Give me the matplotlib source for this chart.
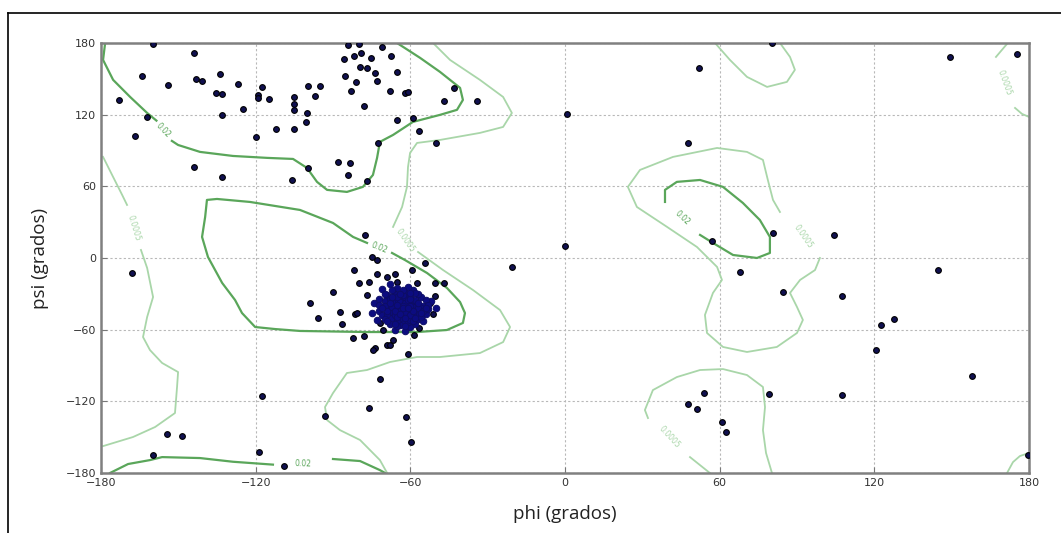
import numpy as np
import matplotlib
matplotlib.use("Agg")
import matplotlib.pyplot as plt
from matplotlib.lines import Line2D

# residue angles (phi, psi)
scatter_pts = [
    # beta region
    (-160, 179), (-144, 172), (-164, 152), (-154, 145), (-143, 150), (-141, 148),
    (-134, 154), (-135.5, 138), (-133, 137), (-127, 146), (-117.6, 143.5),
    (-119, 136.5), (-119, 133.7), (-115, 133), (-125, 125), (-133, 120),
    (-173, 132), (-162, 118), (-167, 102), (-120, 101.6), (-112, 108),
    (-105, 135), (-105, 128.5), (-105, 124), (-100, 121), (-100.6, 114),
    (-105, 108), (-97, 135.7), (-99.8, 144), (-95, 144), (-144, 76.5),
    (-133, 68), (-106, 65), (-88, 80.7), (-83.4, 79.3), (-84, 69.5),
    (-77, 64.7), (-99.6, 75.6), (-84, 178.4), (-80, 179), (-71, 177),
    (-85.6, 166.4), (-82, 169), (-79, 171.4), (-75.4, 167.8), (-67.5, 169),
    (-79.5, 159.7), (-77, 159), (-73.7, 155), (-73, 148), (-65, 155.5),
    (-85.3, 152.4), (-81, 147), (-83, 140), (-68, 140), (-62, 138), (-61, 139),
    (-78, 127), (-65, 115.6), (-59, 117), (-56.5, 106), (-72.7, 96.6),
    (-43, 142.6), (-47, 131.5), (-34, 131), (-50, 96.6),
    # scattered
    (0.6, 120.6), (47.8, 96.6), (52, 159.4), (80.4, 179.8), (149.3, 168.6),
    (175.2, 170.9), (-77.6, 19.3), (0, 10.3), (-75, 1), (-73, -1.7),
    (-54.3, -4), (-20.4, -7.3), (-82, -10), (-59.3, -10),
    (56.9, 14.5), (80.8, 20.7), (104.3, 19.3), (67.9, -11.7), (84.4, -28.2),
    (107.6, -31.8), (144.6, -10), (122.6, -56), (127.7, -51.3), (120.5, -77),
    (157.8, -98.8), (53.9, -113.3), (47.8, -122.3), (51.3, -126.5),
    (60.9, -137), (62.5, -146), (79.1, -114.2), (107.3, -114.7), (179.7, -165),
    # around the alpha cluster
    (-50.4, -20.7), (-46.9, -20.7), (-50.4, -31.8), (-51.1, -47.2),
    (-56.6, -59), (-58.6, -64.5), (-61, -80), (-71.8, -101), (-76, -126),
    (-61.7, -133.4), (-59.7, -153.8), (-82.4, -66.7), (-78, -65.3),
    (-73.7, -75.6), (-74.4, -77), (-69.2, -73), (-67.9, -73), (-66.6, -68.7),
    (-87.3, -45), (-86.6, -55), (-81.5, -47), (-80.8, -46.3), (-89.9, -28.7),
    (-98.9, -37.4), (-95.7, -50.5), (-71.8, -54.7), (-70.5, -60.3),
    (-80, -21), (-76, -20), (-73, -13), (-69, -16), (-66, -13), (-65, -20),
    (-57.5, -21), (-76.9, -31), (-52.4, -38),
    # left / bottom
    (-168, -12.3), (-117.6, -115.6), (-93, -132.3), (-154.3, -147.7),
    (-148.7, -149), (-160, -165), (-118.6, -162.2), (-109, -174),
]

# dense alpha-helix blob
alpha_blob = [
    (-64, -40), (-62, -42), (-66, -38), (-60, -44), (-68, -41), (-63, -35),
    (-61, -48), (-65, -46), (-58, -38), (-70, -36), (-57, -45), (-67, -50),
    (-63, -52), (-59, -50), (-72, -44), (-55, -40), (-66, -30), (-62, -29),
    (-69, -31), (-56, -33), (-54, -47), (-71, -48), (-60, -36), (-64, -56),
    (-58, -55), (-68, -55), (-61, -39), (-65, -43), (-63, -47), (-67, -45),
    (-59, -41), (-62, -33), (-66, -34), (-57, -51), (-70, -40), (-53, -43),
    (-74, -38), (-60, -58), (-65, -25), (-59, -27), (-71, -26), (-52, -36),
    (-55, -53), (-73, -52), (-62, -61), (-66, -60), (-57, -30), (-75, -46),
    (-50, -42), (-68, -22), (-61, -24), (-64, -50), (-69, -47), (-56, -42),
    (-61, -54), (-72, -34), (-54, -35), (-67, -37), (-63, -44), (-58, -47),
    (-64, -37), (-61, -45), (-66, -42), (-62, -38), (-60, -40), (-64, -44),
    (-62, -46), (-66, -48), (-59, -46), (-57, -42), (-63, -31), (-60, -32),
    (-65, -33), (-68, -34), (-69, -44), (-58, -35), (-55, -44), (-56, -49),
    (-60, -52), (-65, -53), (-70, -51), (-67, -27), (-63, -27), (-59, -53),
    (-62, -57), (-65, -57), (-53, -39), (-72, -39), (-70, -30), (-58, -29),
    (-61, -35), (-67, -41), (-63, -40), (-65, -49), (-57, -38), (-60, -48),
    (-68, -38), (-66, -44), (-64, -47), (-62, -50), (-60, -34), (-63, -42),
    (-59, -44), (-67, -33), (-65, -39), (-61, -42), (-58, -50), (-56, -46),
    (-69, -53), (-71, -42), (-64, -30), (-60, -29), (-66, -55), (-54, -42),
]

# contour level 0.02 (traced)
c02_beta = [(-178.4, 180), (-179.2, 165.8), (-175.3, 149.1), (-168.7, 134.8),
            (-162.1, 121.4), (-158.5, 115)]
c02_beta_b = [(-152.5, 98), (-150.1, 94.6), (-141.6, 88.8), (-128.8, 85.4),
              (-115.6, 83.8), (-105.5, 82.9), (-100.1, 75.4), (-96.2, 63.7),
              (-92.3, 57), (-84.6, 55.3), (-78.4, 59.5), (-74.5, 69.5),
              (-72.9, 83.8), (-71.8, 97.2), (-66.7, 103), (-59, 113.9),
              (-48.5, 119.8), (-41.9, 124), (-39.6, 132.3), (-40.7, 142.4),
              (-48.5, 155.8), (-56.2, 167.5), (-62.8, 176.7), (-65.2, 180)]
c02_alpha = [(-76.8, 12.6), (-82.2, 17.6), (-90, 29.3), (-102.8, 40.2),
             (-122.2, 46.9), (-135, 49.4), (-138.9, 48.6), (-139.6, 34.3),
             (-140.8, 17.6), (-138.5, 0.8), (-133, -20.9), (-128, -35.2),
             (-125.3, -46.1), (-120.2, -57.8), (-112.5, -59.5), (-102.8, -61.1),
             (-76.8, -62), (-57.4, -62), (-45.8, -60.3), (-39.6, -54.4),
             (-38.8, -46.1), (-40.7, -36.9), (-45.8, -25.1), (-53.5, -12.6),
             (-62.1, -1.7), (-67.1, 4.2)]
c02_left = [(52.4, 19.3), (57.4, 12.6), (65.2, 2.5), (74.5, 0), (79.5, 4.2),
            (79.5, 17.6), (75.6, 31.8), (69, 46.1), (61.3, 59.5), (52.4, 65.3),
            (43.4, 63.7), (38.8, 57), (38.8, 46.9)]
c02_bottom = [(-176.5, -180), (-169.5, -172.5), (-161, -169.2), (-156.3, -166.7),
              (-141.6, -167.5), (-128.8, -170.6), (-113.3, -173)]
c02_bottom_b = [(-90, -168.3), (-79.5, -170), (-71.8, -177.6), (-69.8, -180)]

# contour level 0.0005 (traced)
c5_beta = [(-51.2, 180), (-44.6, 165.8), (-33, 149.1), (-24, 134.8),
           (-20.6, 121.4), (-24, 109.7), (-33, 104.7), (-48.5, 98.8),
           (-57.4, 96.3), (-60.1, 87.9), (-60.9, 76.2), (-61.3, 59.5),
           (-63.2, 42.7), (-66.7, 26)]
c5_alpha = [(-57, 5), (-47.3, -10.1), (-35.7, -26.8), (-25.2, -43.6),
            (-21.3, -57.8), (-24, -70.4), (-33, -79.6), (-48.5, -82.9),
            (-57.4, -82.9), (-67.9, -87.1), (-76.8, -93.8), (-84.6, -96.3),
            (-90, -113.1), (-93.1, -124.8), (-92.3, -135.7), (-87.3, -144.1),
            (-79.5, -152.4), (-71.8, -169.2), (-69, -180)]
c5_edge = [(-179.2, 84.6), (-175.3, 67.8), (-171.8, 52.8), (-169.9, 44.4)]
c5_edge_b = [(-164.5, 6.7), (-162.1, -8.4), (-159.8, -32.7), (-162.1, -49.4),
             (-163.7, -66.2), (-161, -77.1), (-156.3, -87.9), (-150.1, -95.5),
             (-150.5, -108), (-151.3, -129.8), (-159, -141.5), (-167.6, -149.9),
             (-179.2, -157.5)]
c5_top = [(58.2, 180), (64, 165.8), (70.6, 151.6), (78.4, 143.2), (86.1, 147.4),
          (89.2, 157.5), (87.3, 168.3), (83.4, 180)]
c5_lh = [(83.4, 38.5), (80.7, 48.6), (78.7, 65.3), (76.8, 82.1), (70.6, 88.8),
         (59, 92.1), (41.9, 84.6), (29.1, 73.7), (24.4, 59.5), (27.9, 42.7),
         (39.6, 26), (51.2, 9.2), (59, -7.5), (60.9, -18.4), (57.4, -29.3),
         (54.3, -47.7), (55.1, -62.8), (61.3, -74.5), (70.6, -78.7),
         (82.2, -74.5), (90, -62.8), (92.3, -51.9), (90, -41), (87.3, -29.3),
         (91.2, -18.4), (97, -10.1), (98.9, 0)]
c5_low = [(32.2, -134), (31, -127.3), (34.1, -110.6), (43.4, -99.7),
          (52.4, -93.8), (61.3, -93), (70.6, -98), (76.8, -108), (77.6, -124.8),
          (76.8, -144.1), (78, -163.3), (80.3, -180)]
c5_low_b = [(48.5, -166.7), (56.2, -180)]
c5_corner = [(171.8, 180), (167.2, 168.3)]
c5_corner_b = [(174.6, 125.6), (177.3, 120.6), (180, 118.1)]
c5_corner_low = [(171.5, -180), (173.8, -170.9), (176.5, -165.8), (180, -163.3)]

# inline labels: (phi, psi, text, angle, level)
contour_labels = [
    (-155.8, 107, "0.02", -46, "hi"),
    (-72, 8.5, "0.02", -22, "hi"),
    (45.5, 33.5, "0.02", -43, "hi"),
    (-101.5, -172, "0.02", -2, "hi"),
    (-62, 15, "0.0005", -55, "lo"),
    (-167.3, 25, "0.0005", -73, "lo"),
    (92.5, 18, "0.0005", -55, "lo"),
    (40.5, -150, "0.0005", -47, "lo"),
    (170.5, 147, "0.0005", -70, "lo"),
]

ticks = [-180, -120, -60, 0, 60, 120, 180]

col_hi = "#5aa65a"
col_lo = "#a9d6a9"

fig = plt.figure(figsize=(10.61, 5.33), dpi=100)
ax = fig.add_axes([0.0952, 0.1126, 0.8746, 0.8068])

for seg in [c02_beta, c02_beta_b, c02_alpha, c02_left, c02_bottom, c02_bottom_b]:
    arr = np.array(seg)
    ax.plot(arr[:, 0], arr[:, 1], color=col_hi, lw=1.6, zorder=2)
for seg in [c5_beta, c5_alpha, c5_edge, c5_edge_b, c5_top, c5_lh, c5_low,
            c5_low_b, c5_corner, c5_corner_b, c5_corner_low]:
    arr = np.array(seg)
    ax.plot(arr[:, 0], arr[:, 1], color=col_lo, lw=1.3, zorder=2)

for x, y, t, ang, lev in contour_labels:
    ax.text(x, y, t, rotation=ang, fontsize=5.5, ha="center", va="center",
            color=col_hi if lev == "hi" else col_lo, zorder=3)

pts = np.array(scatter_pts)
ax.scatter(pts[:, 0], pts[:, 1], s=17, c="#101050", edgecolors="black",
           linewidths=0.8, zorder=4)
blob = np.array(alpha_blob)
ax.scatter(blob[:, 0], blob[:, 1], s=22, c="#0c0c80", edgecolors="#0c0c66",
           linewidths=0.7, zorder=4)

ax.set_xlim(-180, 180)
ax.set_ylim(-180, 180)
ax.set_xticks(ticks)
ax.set_yticks(ticks)
ax.tick_params(labelsize=8, labelcolor="#333333", direction="in", length=4,
               color="#777777")
ax.grid(True, color="#b8b8b8", linestyle=(0, (2, 2)), linewidth=0.8)
for sp in ax.spines.values():
    sp.set_color("#808080")
    sp.set_linewidth(1.8)

fig.text(0.5325, 0.035, "phi (grados)", ha="center", va="center",
         fontsize=13.5, family="Open Sans", color="#222222")
fig.text(0.038, 0.516, "psi (grados)", ha="center", va="center", rotation=90,
         fontsize=13.5, family="Open Sans", color="#222222")

# frame of the screenshot
fig.add_artist(Line2D([0.0075, 1.0], [0.9756, 0.9756], color="black", lw=1.2))
fig.add_artist(Line2D([0.0075, 0.0075], [0.0, 0.9756], color="black", lw=1.2))

fig.savefig("out.png", dpi=100, facecolor="white")
